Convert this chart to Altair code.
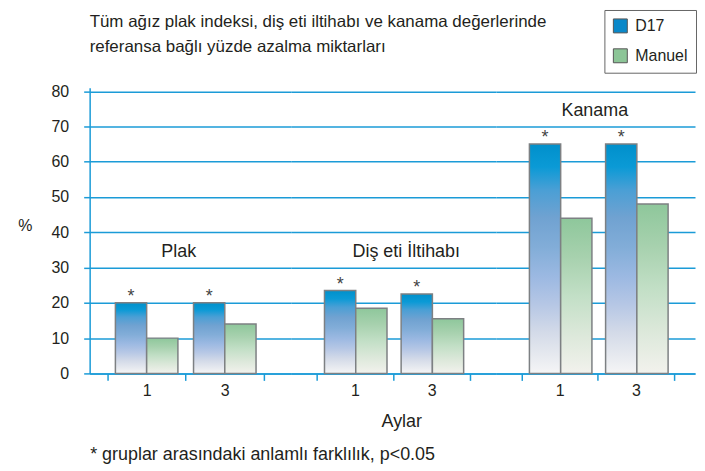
import altair as alt
import pandas as pd

# ---------------- data ----------------
groups = ["Plak", "Diş eti İltihabı", "Kanama"]
months = ["1", "3"]
series = ["D17", "Manuel"]
d17 = [20, 20, 23.5, 22.5, 65, 65]
manuel = [10, 14, 18.5, 15.5, 44, 48]
significant = [True, True, True, True, True, True]
label_level = [34.5, 34.5, 74.5]
y_ticks = [0, 10, 20, 30, 40, 50, 60, 70, 80]

title_lines = ["Tüm ağız plak indeksi, diş eti iltihabı ve kanama değerlerinde",
               "referansa bağlı yüzde azalma miktarları"]
footnote = "* gruplar arasındaki anlamlı farklılık, p<0.05"
x_title = "Aylar"
y_title = "%"

rows = []
for gi, g in enumerate(groups):
    for mi, m in enumerate(months):
        k = gi * 2 + mi
        rows.append(dict(group=g, month=m, series="D17", value=d17[k],
                         star="*" if significant[k] else ""))
        rows.append(dict(group=g, month=m, series="Manuel", value=manuel[k], star=""))
df = pd.DataFrame(rows)
labels_df = pd.DataFrame(dict(group=groups, level=label_level, month=[months[0]] * 3))

# ---------------- style ----------------
BLUE = "#1b9bd7"
TXT = "#231f20"
FONT = "Liberation Sans"
NARROW = "Liberation Sans Narrow, Liberation Sans"
LEG_COLORS = ["#0a88c9", "#8cc597"]
LABEL_DX = [-7, 13, -3]

grad_blue = alt.Gradient(
    gradient="linear", x1=0, x2=0, y1=0, y2=1,
    stops=[alt.GradientStop(offset=0, color="#0090cb"),
           alt.GradientStop(offset=0.1, color="#0b9ad6"),
           alt.GradientStop(offset=0.2, color="#4a9fd5"),
           alt.GradientStop(offset=0.32, color="#70a2d1"),
           alt.GradientStop(offset=0.45, color="#82add8"),
           alt.GradientStop(offset=0.58, color="#9cb9e2"),
           alt.GradientStop(offset=0.7, color="#b6c7e5"),
           alt.GradientStop(offset=0.82, color="#d3dae8"),
           alt.GradientStop(offset=0.92, color="#e6e9ef"),
           alt.GradientStop(offset=1, color="#f5f5f6")])
grad_green = alt.Gradient(
    gradient="linear", x1=0, x2=0, y1=0, y2=1,
    stops=[alt.GradientStop(offset=0, color="#8ec79b"),
           alt.GradientStop(offset=0.25, color="#a7d1ae"),
           alt.GradientStop(offset=0.5, color="#c2dfc6"),
           alt.GradientStop(offset=0.75, color="#dce8da"),
           alt.GradientStop(offset=1, color="#f2f2ed")])

PLOT_H = 287
panels_cfg = [
    dict(width=202, po=0.287, align=0.4),
    dict(width=206, po=0.338, align=0.5),
    dict(width=200, po=0.307, align=0.55),
]


def make_panel(gi):
    cfg = panels_cfg[gi]
    g = groups[gi]
    data = df[df.group == g]
    first = gi == 0

    if gi == 0:
        xaxis = alt.Axis(title=footnote, titleAnchor="start", titleAlign="left", titleX=0,
                         titleY=81, titleBaseline="middle", titleFontSize=18,
                         titleFontWeight="normal", titleFont=FONT, titleColor=TXT)
    elif gi == 1:
        xaxis = alt.Axis(title=x_title, titleY=48, titleBaseline="middle", titleFontSize=18,
                         titleFontWeight="normal", titleFont=FONT, titleColor=TXT,
                         titleX=cfg["width"] / 2 + 8)
    else:
        xaxis = alt.Axis(title=None)

    def X(band=None):
        kw = {}
        if band is not None:
            kw["bandPosition"] = band
        return alt.X("month:N", sort=months,
                     scale=alt.Scale(domain=months, paddingInner=0,
                                     paddingOuter=cfg["po"], align=cfg["align"]),
                     axis=xaxis, **kw)

    if first:
        yaxis = alt.Axis(values=y_ticks, title=y_title, titleAngle=0, titleX=-65, titleY=138,
                         titleAlign="center", titleBaseline="middle", titleFontSize=16,
                         titleFontWeight="normal", titleFont=FONT, titleColor=TXT,
                         labelPadding=15, tickSize=6)
    else:
        yaxis = alt.Axis(values=y_ticks, title=None, labels=False, ticks=False, domain=False)

    def Y(field):
        return alt.Y(field, type="quantitative", scale=alt.Scale(domain=[0, 81], nice=False),
                     axis=yaxis)

    xoff = alt.XOffset("series:N", sort=series,
                       scale=alt.Scale(domain=series, paddingInner=0, paddingOuter=0.25))

    base = alt.Chart(data)
    layers = []
    if first:
        layers.append(
            base.mark_bar(fillOpacity=0, strokeOpacity=0).encode(
                x=X(), xOffset=xoff, y=Y("value"),
                fill=alt.Fill("series:N", sort=series,
                              scale=alt.Scale(domain=series, range=LEG_COLORS),
                              legend=alt.Legend(title=None, orient="none",
                                                legendX=517, legendY=-78,
                                                symbolOpacity=1))))
    layers.append(
        base.transform_filter(alt.datum.series == "D17")
        .mark_bar(fill=grad_blue, stroke="#7d8083", strokeWidth=1.5)
        .encode(x=X(), xOffset=xoff, y=Y("value")))
    layers.append(
        base.transform_filter(alt.datum.series == "Manuel")
        .mark_bar(fill=grad_green, stroke="#7d8083", strokeWidth=1.5)
        .encode(x=X(), xOffset=xoff, y=Y("value")))
    layers.append(
        base.transform_filter(alt.datum.series == "D17")
        .mark_text(baseline="bottom", dy=3, fontSize=18, color="#444", font=FONT)
        .encode(x=X(), xOffset=xoff, y=Y("value"), text="star:N"))
    layers.append(
        alt.Chart(labels_df[labels_df.group == g])
        .mark_text(baseline="middle", fontSize=18, color=TXT, font=FONT, dx=LABEL_DX[gi])
        .encode(x=X(1), y=Y("level"), text="group:N"))

    return alt.layer(*layers).properties(width=cfg["width"], height=PLOT_H)


chart = (
    alt.hconcat(*[make_panel(i) for i in range(3)], spacing=0, bounds="flush")
    .properties(
        title=alt.TitleParams(text=title_lines, anchor="start", frame="group",
                              fontSize=17, fontWeight="normal", font=FONT, color=TXT,
                              lineHeight=25, offset=-47, dx=0),
        padding={"left": 9, "top": 0, "right": 0, "bottom": 2},
    )
    .configure_view(stroke=None)
    .configure_axis(gridColor=BLUE, gridWidth=1.5, domainColor=BLUE, domainWidth=1.5,
                    tickColor=BLUE, tickWidth=1.5, labelFontSize=16, labelColor=TXT,
                    labelFont=NARROW)
    .configure_axisX(tickBand="extent", tickSize=7, labelAngle=0, labelPadding=2, grid=False)
    .configure_legend(strokeColor="#666", strokeWidth=1, padding=8, symbolType="square",
                      symbolSize=196, symbolStrokeColor="#555", symbolStrokeWidth=1,
                      labelFontSize=16, labelFont=NARROW, labelColor=TXT, rowPadding=12,
                      labelOffset=7, fillColor="white")
)

chart.save("out.html", embed_options={"renderer": "svg", "actions": False})
